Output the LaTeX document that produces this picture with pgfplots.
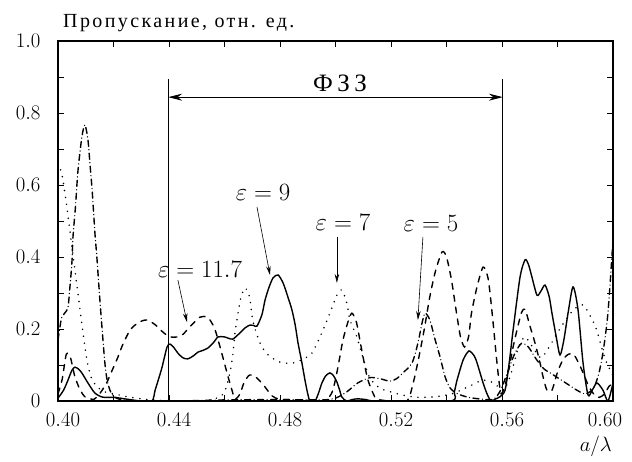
\documentclass[border=0pt]{standalone}
\usepackage{fontspec}
\setmainfont{Liberation Serif}
\newfontfamily\cyr[LetterSpace=12]{Liberation Serif}
\newfontfamily\cyrb[LetterSpace=18]{Liberation Serif}
\usepackage{pgfplots}
\pgfplotsset{compat=1.18}
\usetikzlibrary{arrows.meta}
\begin{document}
\begin{tikzpicture}
\begin{axis}[
 scale only axis, width=555pt, height=360pt,
 xmin=0.40, xmax=0.60, ymin=0, ymax=1.0,
 xtick={0.40,0.44,0.48,0.52,0.56},
 xticklabels={$0.40$,$0.44$,$0.48$,$0.52$,$0.56$},
 minor xtick={0.42,0.46,0.50,0.54,0.58},
 extra x ticks={0.60}, extra x tick labels={$0.60$},
 extra x tick style={xticklabel style={xshift=-13pt}},
 ytick={0,0.2,0.4,0.6,0.8,1.0}, yticklabels={$0$,$0.2$,$0.4$,$0.6$,$0.8$,$1.0$},
 minor ytick={0.1,0.3,0.5,0.7,0.9},
 tick align=inside, major tick length=6pt, minor tick length=6pt,
 tick style={line width=0.9pt, black},
 axis line style={line width=1.1pt},
 ticklabel style={font=\fontsize{20}{20}\selectfont},
 xticklabel style={yshift=-9pt, xshift=5pt},
 yticklabel style={xshift=-14pt},
 every axis plot/.append style={line width=1.4pt, line cap=round, smooth, tension=0.45},
 clip mode=individual,
]
% solid: eps = 9
\addplot[black] coordinates {
(0.400,0.008) (0.402,0.03) (0.4036,0.058) (0.405,0.085) (0.4061,0.094) (0.4075,0.088) (0.4086,0.078) (0.4108,0.05) (0.4133,0.022) (0.4159,0.011) (0.418,0.01) (0.4205,0.01) (0.424,0.006) (0.4267,0.003) (0.430,0.0) (0.4339,0.0) (0.435,0.03) (0.4362,0.06) (0.4375,0.094) (0.4393,0.15) (0.4404,0.158) (0.4418,0.148) (0.4432,0.133) (0.445,0.12) (0.4468,0.117) (0.4487,0.125) (0.4505,0.136) (0.452,0.14) (0.454,0.147) (0.456,0.162) (0.4577,0.178) (0.460,0.178) (0.4615,0.174) (0.463,0.172) (0.465,0.185) (0.4674,0.203) (0.4692,0.211) (0.4705,0.21) (0.4717,0.208) (0.4735,0.24) (0.4746,0.28) (0.476,0.315) (0.4775,0.342) (0.4793,0.35) (0.4811,0.328) (0.4828,0.29) (0.4843,0.253) (0.4855,0.21) (0.4865,0.161) (0.4878,0.11) (0.489,0.058) (0.490,0.02) (0.4908,0.0) (0.4926,0.0) (0.4938,0.02) (0.4951,0.05) (0.4965,0.07) (0.498,0.078) (0.4993,0.07) (0.5005,0.053) (0.5015,0.03) (0.5023,0.011) (0.504,0.0) (0.506,0.004) (0.508,0.006) (0.511,0.004) (0.515,0.0) (0.5413,0.0) (0.5428,0.025) (0.5438,0.058) (0.546,0.114) (0.5481,0.139) (0.550,0.125) (0.551,0.106) (0.5532,0.05) (0.5546,0.02) (0.556,0.0) (0.5575,0.005) (0.5593,0.012) (0.5611,0.03) (0.5625,0.1) (0.564,0.197) (0.5665,0.344) (0.5683,0.392) (0.5695,0.38) (0.5708,0.344) (0.5726,0.294) (0.574,0.305) (0.5755,0.322) (0.577,0.29) (0.578,0.244) (0.5795,0.18) (0.5809,0.128) (0.5823,0.17) (0.5838,0.244) (0.5856,0.317) (0.5874,0.253) (0.5892,0.106) (0.591,0.017) (0.5925,0.03) (0.5942,0.05) (0.5964,0.03) (0.5982,0.0) (0.600,0.05)
};
% dashed: eps = 11.7
\addplot[black, dash pattern=on 6pt off 6pt] coordinates {
(0.400,0.02) (0.4015,0.06) (0.403,0.13) (0.4045,0.12) (0.406,0.07) (0.408,0.03) (0.410,0.01) (0.413,0.005) (0.415,0.02) (0.4175,0.05) (0.4195,0.085) (0.4215,0.12) (0.4233,0.156) (0.426,0.197) (0.429,0.218) (0.432,0.225) (0.435,0.212) (0.438,0.19) (0.4404,0.178) (0.443,0.178) (0.445,0.185) (0.448,0.21) (0.4512,0.233) (0.454,0.232) (0.4565,0.2) (0.459,0.133) (0.4613,0.067) (0.4627,0.03) (0.4638,0.005) (0.4656,0.02) (0.467,0.05) (0.469,0.072) (0.4715,0.065) (0.4746,0.039) (0.477,0.015) (0.480,0.005) (0.488,0.003) (0.4955,0.0) (0.4985,0.02) (0.500,0.06) (0.5015,0.12) (0.5027,0.17) (0.5045,0.22) (0.5059,0.244) (0.5075,0.22) (0.509,0.16) (0.5105,0.1) (0.5117,0.058) (0.5135,0.022) (0.515,0.005) (0.520,0.0) (0.5258,0.0) (0.528,0.05) (0.530,0.12) (0.532,0.2) (0.534,0.29) (0.536,0.36) (0.5384,0.414) (0.540,0.4) (0.5418,0.336) (0.5435,0.25) (0.545,0.18) (0.5465,0.15) (0.548,0.18) (0.549,0.244) (0.551,0.317) (0.5532,0.372) (0.555,0.34) (0.5565,0.24) (0.558,0.12) (0.559,0.05) (0.5597,0.02) (0.561,0.04) (0.5625,0.09) (0.564,0.15) (0.5654,0.197) (0.567,0.245) (0.5683,0.255) (0.570,0.21) (0.5719,0.161) (0.5737,0.106) (0.5748,0.067) (0.5762,0.03) (0.578,0.03) (0.580,0.08) (0.582,0.115) (0.584,0.13) (0.586,0.128) (0.5888,0.086) (0.591,0.045) (0.593,0.02) (0.595,0.01) (0.597,0.02) (0.5985,0.04) (0.600,0.05)
};
% dotted: eps = 7
\addplot[black, line width=1.7pt, dash pattern=on 0pt off 7pt] coordinates {
(0.400,0.66) (0.4014,0.63) (0.403,0.55) (0.4045,0.46) (0.406,0.37) (0.4075,0.28) (0.409,0.19) (0.4105,0.11) (0.412,0.065) (0.414,0.04) (0.417,0.025) (0.420,0.02) (0.425,0.012) (0.430,0.006) (0.436,0.002) (0.445,0.0) (0.452,0.0) (0.456,0.005) (0.459,0.015) (0.4605,0.035) (0.462,0.08) (0.463,0.128) (0.4638,0.19) (0.465,0.25) (0.466,0.29) (0.4674,0.314) (0.469,0.29) (0.4703,0.22) (0.4728,0.161) (0.4757,0.128) (0.480,0.108) (0.4843,0.105) (0.488,0.115) (0.4915,0.133) (0.4944,0.178) (0.497,0.225) (0.5005,0.294) (0.5023,0.308) (0.5041,0.272) (0.5052,0.225) (0.5077,0.178) (0.5095,0.13) (0.5124,0.064) (0.516,0.036) (0.520,0.025) (0.525,0.015) (0.530,0.01) (0.536,0.012) (0.542,0.02) (0.548,0.04) (0.553,0.058) (0.557,0.05) (0.5605,0.03) (0.563,0.07) (0.566,0.15) (0.5683,0.178) (0.571,0.15) (0.574,0.12) (0.577,0.15) (0.580,0.19) (0.5834,0.23) (0.586,0.255) (0.5892,0.267) (0.5915,0.24) (0.594,0.2) (0.597,0.12) (0.600,0.07)
};
% dash-dot: eps = 5
\addplot[black, dash pattern=on 6pt off 3.5pt on 0pt off 3.5pt] coordinates {
(0.400,0.17) (0.401,0.22) (0.4014,0.233) (0.4025,0.245) (0.4036,0.26) (0.4043,0.317) (0.405,0.383) (0.4054,0.456) (0.4063,0.54) (0.4072,0.64) (0.4086,0.733) (0.4097,0.767) (0.4108,0.725) (0.4115,0.66) (0.4123,0.586) (0.4133,0.467) (0.414,0.4) (0.4151,0.28) (0.4162,0.17) (0.4169,0.105) (0.4177,0.058) (0.419,0.025) (0.421,0.008) (0.425,0.002) (0.440,0.0) (0.460,0.003) (0.480,0.004) (0.495,0.003) (0.500,0.008) (0.504,0.025) (0.508,0.05) (0.5124,0.065) (0.516,0.062) (0.5196,0.055) (0.522,0.062) (0.5243,0.078) (0.5276,0.106) (0.5297,0.161) (0.5312,0.217) (0.5323,0.244) (0.534,0.225) (0.5359,0.17) (0.5377,0.122) (0.5395,0.067) (0.5413,0.036) (0.544,0.02) (0.548,0.01) (0.553,0.005) (0.557,0.005) (0.5595,0.03) (0.562,0.08) (0.5645,0.13) (0.567,0.16) (0.5695,0.15) (0.572,0.12) (0.575,0.09) (0.578,0.075) (0.581,0.06) (0.584,0.045) (0.587,0.03) (0.590,0.02) (0.593,0.035) (0.595,0.08) (0.5965,0.14) (0.598,0.23) (0.599,0.33) (0.600,0.45)
};
% band gap markers
\draw[line width=0.8pt] (axis cs:0.4397,0) -- (axis cs:0.4397,0.894);
\draw[line width=0.8pt] (axis cs:0.5603,0) -- (axis cs:0.5603,0.894);
\draw[line width=0.8pt, {Stealth[length=14pt,width=7pt]}-{Stealth[length=14pt,width=7pt]}] (axis cs:0.4397,0.844) -- (axis cs:0.5603,0.844);
\node[font=\cyrb\fontsize{25}{25}\selectfont, inner sep=0pt, xshift=5pt] at (axis cs:0.4998,0.883) {ФЗЗ};
% epsilon labels
\node[font=\fontsize{23}{23}\selectfont] at (axis cs:0.4512,0.364) {$\varepsilon = 11.7$};
\node[font=\fontsize{23}{23}\selectfont] at (axis cs:0.4739,0.578) {$\varepsilon = 9$};
\node[font=\fontsize{23}{23}\selectfont] at (axis cs:0.5027,0.497) {$\varepsilon = 7$};
\node[font=\fontsize{23}{23}\selectfont] at (axis cs:0.5344,0.494) {$\varepsilon = 5$};
\draw[line width=0.6pt, -{Stealth[length=9pt,width=4.5pt]}] (axis cs:0.4432,0.336) -- (axis cs:0.4465,0.219);
\draw[line width=0.6pt, -{Stealth[length=9pt,width=4.5pt]}] (axis cs:0.4717,0.539) -- (axis cs:0.4764,0.35);
\draw[line width=0.6pt, -{Stealth[length=9pt,width=4.5pt]}] (axis cs:0.5005,0.456) -- (axis cs:0.5005,0.328);
\draw[line width=0.6pt, -{Stealth[length=9pt,width=4.5pt]}] (axis cs:0.5315,0.456) -- (axis cs:0.5297,0.225);
% title and x label
\node[anchor=base west, inner sep=0pt, font=\cyr\fontsize{20}{20}\selectfont] at ([shift={(5pt,13pt)}]rel axis cs:0,1) {Пропускание, отн. ед.};
\node[anchor=base east, inner sep=0pt, font=\fontsize{21}{21}\selectfont] at ([shift={(-1pt,-50pt)}]rel axis cs:1,0) {$a/\lambda$};
\end{axis}
\pgfresetboundingbox
\path[use as bounding box] ([shift={(-58pt,-60pt)}]current axis.south west) rectangle ([shift={(19pt,41pt)}]current axis.north east);
\end{tikzpicture}
\end{document}
